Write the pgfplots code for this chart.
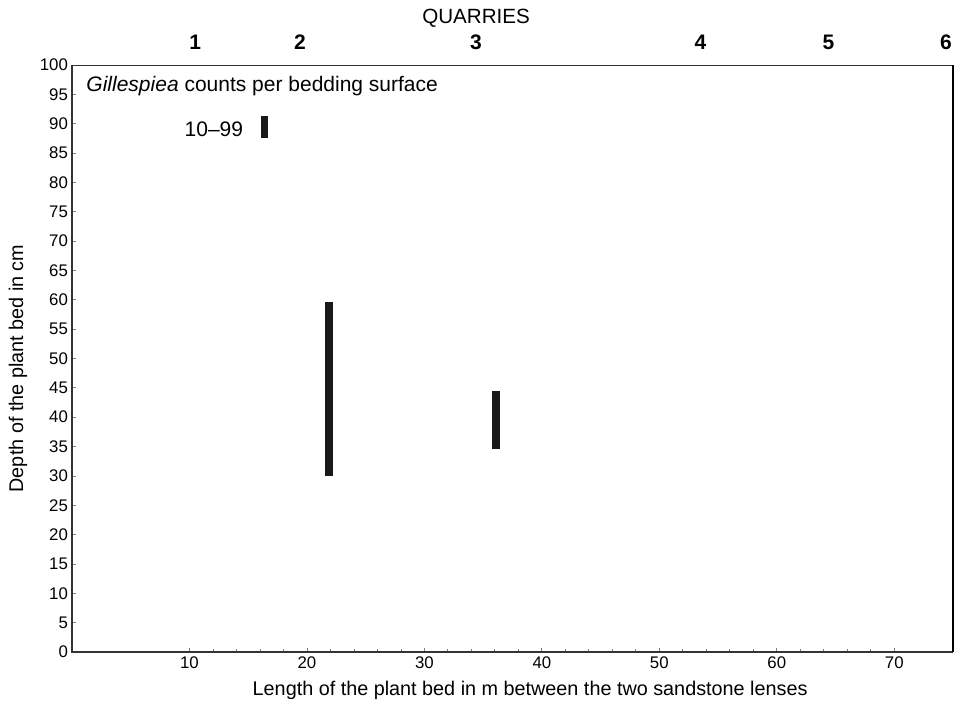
\documentclass[border=0pt]{standalone}
\usepackage{pgfplots}
\pgfplotsset{compat=1.18}
\usepackage{fontspec}
\setmainfont{Liberation Sans}
\tikzset{qlab/.style={font=\bfseries\fontsize{10.5pt}{12pt}\selectfont, anchor=center, yshift=11.5pt}}
\begin{document}
\begin{tikzpicture}
\path[use as bounding box] (-36pt,-28pt) rectangle (441pt,326pt);
\begin{axis}[
  at={(0,0)}, anchor=south west,
  scale only axis,
  width=440.5pt, height=293.5pt,
  xmin=0, xmax=75, ymin=0, ymax=100,
  xtick={10,20,...,70},
  ytick={0,5,...,100},
  minor x tick num=4,
  xtick pos=bottom, ytick pos=left,
  tick align=inside,
  major tick length=2pt, minor tick length=1.5pt,
  every tick/.style={gray, line width=0.4pt},
  axis line style={line width=0.5pt, black!80},
  /pgf/number format/assume math mode=true,
  tick label style={font=\fontsize{8.4pt}{9pt}\selectfont},
  xticklabel style={yshift=1pt},
  yticklabel style={xshift=1.5pt},
  xlabel={Length of the plant bed in m between the two sandstone lenses},
  ylabel={Depth of the plant bed in cm},
  label style={font=\fontsize{9.9pt}{11pt}\selectfont},
  xlabel style={at={(axis description cs:0.52,-0.066)}, anchor=center},
  ylabel style={at={(axis description cs:-0.0613,0.483)}, anchor=center},
  clip=false,
]
\addplot[line width=3.75pt, black!90, line cap=butt] coordinates {(16.4,87.5) (16.4,91.3)};
\addplot[line width=3.75pt, black!90, line cap=butt] coordinates {(21.9,29.9) (21.9,59.7)};
\addplot[line width=3.75pt, black!90, line cap=butt] coordinates {(36.1,34.5) (36.1,44.5)};
\draw[line width=1.1pt, black!80] (axis description cs:0,1) -- (axis description cs:0,0) -- (axis description cs:1,0);
\draw[line width=1.1pt, black] (axis description cs:1,0) -- (axis description cs:1,1);
\node[anchor=west, inner sep=0pt, font=\fontsize{10.5pt}{12pt}\selectfont] at (axis cs:1.2,96.4) {\textit{Gillespiea} counts per bedding surface};
\node[anchor=east, inner sep=0pt, font=\fontsize{10.5pt}{12pt}\selectfont] at (axis cs:14.6,89.1) {10--99};
\node[qlab] at (axis cs:10.5,100) {1};
\node[qlab] at (axis cs:19.4,100) {2};
\node[qlab] at (axis cs:34.4,100) {3};
\node[qlab] at (axis cs:53.5,100) {4};
\node[qlab] at (axis cs:64.4,100) {5};
\node[qlab] at (axis cs:74.4,100) {6};
\node[font=\fontsize{10.3pt}{12pt}\selectfont, anchor=center] at (axis cs:34.4,100) [yshift=23.5pt] {QUARRIES};
\end{axis}
\end{tikzpicture}
\end{document}
